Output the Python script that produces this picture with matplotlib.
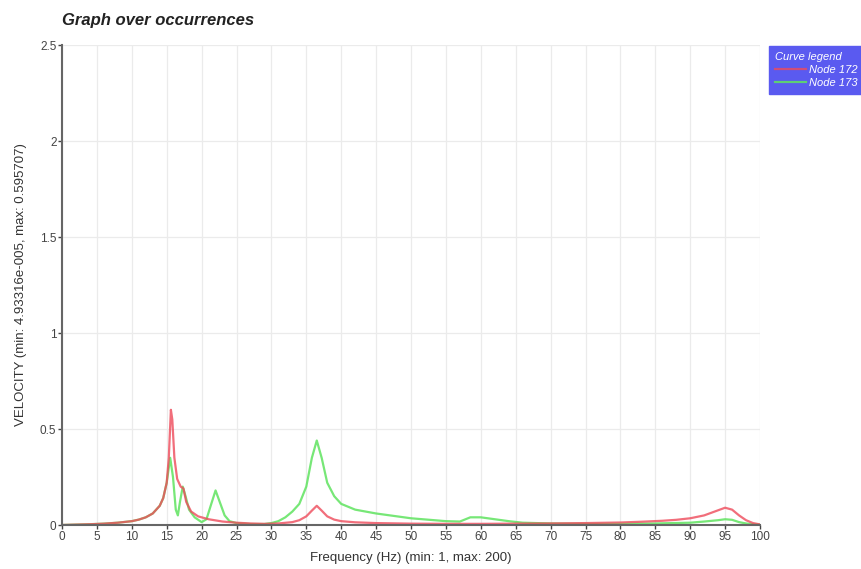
import matplotlib
matplotlib.use('Agg')
from matplotlib import pyplot as plt

# values
freq_red = [0, 2, 4, 6, 8, 10, 11, 12, 13, 14, 14.5, 15, 15.3, 15.6, 15.8, 16.1, 16.5, 17, 17.4,
            17.8, 18.5, 19.5, 21, 23, 25, 27, 29, 31, 33, 34, 35, 35.8, 36.5, 37.2, 38, 39, 40,
            42, 45, 50, 55, 60, 65, 70, 75, 80, 83, 86, 88, 90, 92, 93.5, 95, 96, 97, 98, 99, 100]
vel_red = [0, 0.002, 0.004, 0.007, 0.012, 0.02, 0.028, 0.04, 0.06, 0.1, 0.14, 0.22, 0.35, 0.6,
           0.55, 0.35, 0.24, 0.2, 0.19, 0.12, 0.07, 0.045, 0.03, 0.018, 0.012, 0.008, 0.006,
           0.008, 0.015, 0.025, 0.045, 0.075, 0.1, 0.075, 0.045, 0.028, 0.02, 0.014, 0.01,
           0.007, 0.006, 0.006, 0.007, 0.008, 0.01, 0.013, 0.017, 0.022, 0.027, 0.035, 0.05,
           0.07, 0.09, 0.08, 0.05, 0.025, 0.01, 0.003]

freq_green = [0, 2, 4, 6, 8, 10, 11, 12, 13, 14, 14.5, 15, 15.5, 15.9, 16.3, 16.6, 16.9, 17.3,
              17.7, 18.2, 19, 20, 20.7, 21.3, 22, 22.6, 23.3, 24, 25, 27, 29, 30, 31, 32, 33, 34,
              35, 35.8, 36.5, 37.2, 38, 39, 40, 42, 45, 50, 55, 57, 58.5, 60, 62, 64, 66, 70, 75,
              80, 85, 90, 92, 94, 95, 96, 97, 98, 99, 100]
vel_green = [0, 0.002, 0.004, 0.007, 0.012, 0.02, 0.028, 0.04, 0.06, 0.1, 0.14, 0.22, 0.35,
             0.25, 0.08, 0.05, 0.12, 0.2, 0.15, 0.08, 0.04, 0.015, 0.03, 0.1, 0.18, 0.12, 0.05,
             0.02, 0.01, 0.005, 0.005, 0.01, 0.02, 0.04, 0.07, 0.11, 0.2, 0.35, 0.44, 0.35, 0.22,
             0.15, 0.11, 0.08, 0.06, 0.035, 0.02, 0.018, 0.04, 0.04, 0.03, 0.02, 0.012, 0.008,
             0.006, 0.006, 0.008, 0.012, 0.018, 0.025, 0.03, 0.027, 0.015, 0.008, 0.004, 0.002]

labels = ['Node 172', 'Node 173']
x_ticks = list(range(0, 101, 5))
y_ticks = [0, 0.5, 1, 1.5, 2, 2.5]

plt.rcParams['font.family'] = ['Liberation Sans', 'DejaVu Sans']

fig = plt.figure(figsize=(8.61, 5.69), dpi=100)
ax = fig.add_axes([62 / 861, 1 - 525 / 569, (760 - 62) / 861, (525 - 45) / 569])

ax.plot(freq_green, vel_green, color='#5fe35f', lw=1.6, alpha=0.85, label=labels[1])
ax.plot(freq_red, vel_red, color='#ee4a5a', lw=1.6, alpha=0.8, label=labels[0])

ax.set_xlim(0, 100)
ax.set_ylim(0, 2.5)
ax.set_xticks(x_ticks)
ax.set_yticks(y_ticks)
ax.set_yticklabels(['0', '0.5', '1', '1.5', '2', '2.5'])
ax.grid(True, color='#ebebeb', lw=0.9)
ax.set_axisbelow(True)

for side in ('top', 'right'):
    ax.spines[side].set_visible(False)
for side in ('left', 'bottom'):
    ax.spines[side].set_color('#666666')
    ax.spines[side].set_linewidth(1.5)
ax.tick_params(colors='#444444', labelsize=8.5, length=3, width=1, pad=1)

ax.set_xlabel('Frequency (Hz) (min: 1, max: 200)', fontsize=9.5, color='#333333', labelpad=7)
ax.set_ylabel('VELOCITY (min: 4.93316e-005, max: 0.595707)', fontsize=9.5, color='#333333',
              labelpad=9)

fig.text(62 / 861, 1 - 21 / 569, 'Graph over occurrences', fontsize=12, fontweight='bold',
         fontstyle='italic', color='#222222', va='center', ha='left')

# legend box sits against the right edge, as in the reference
handles, hl = ax.get_legend_handles_labels()
leg = fig.legend(handles[::-1], hl[::-1], title='Curve legend', loc='upper left',
                 bbox_to_anchor=(769 / 861, 1 - 46 / 569), fontsize=8, title_fontsize=8,
                 frameon=True, fancybox=False, handlelength=2.8, handletextpad=0.3,
                 borderpad=0.5, labelspacing=0.3, borderaxespad=0)
leg.get_frame().set_facecolor('#5a5af0')
leg.get_frame().set_edgecolor('#5a5af0')
leg.get_frame().set_alpha(1)
leg._legend_box.align = 'left'
for t in leg.get_texts():
    t.set_color('white')
    t.set_fontstyle('italic')
leg.get_title().set_color('white')
leg.get_title().set_fontstyle('italic')

fig.savefig('out.png', dpi=100)
